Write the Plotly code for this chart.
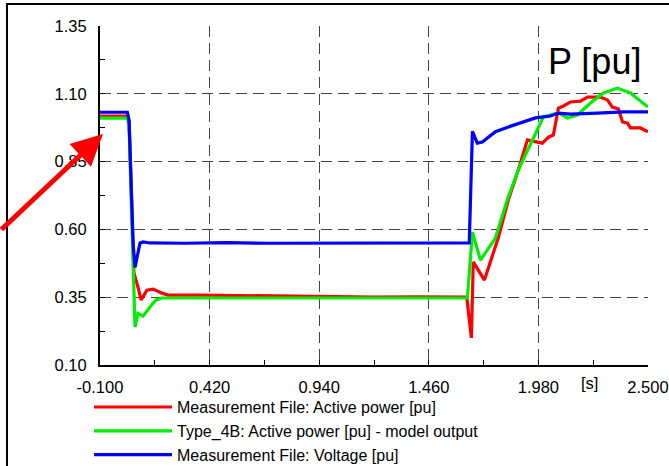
import plotly.graph_objects as go

# ---- data ----
t_meas_p = [-0.100, 0.030, 0.038, 0.050, 0.061, 0.080, 0.095, 0.123, 0.152, 0.194, 0.223, 0.375,
            0.600, 0.883, 1.000, 1.200, 1.400, 1.640, 1.662, 1.671, 1.724, 1.790, 1.838, 1.885,
            1.928, 1.975, 1.999, 2.028, 2.051, 2.075, 2.099, 2.132, 2.179, 2.213, 2.274, 2.308,
            2.331, 2.360, 2.379, 2.403, 2.417, 2.464, 2.500]
p_meas = [1.018, 1.018, 1.000, 0.700, 0.440, 0.387, 0.340, 0.376, 0.380, 0.365, 0.358, 0.358,
          0.356, 0.354, 0.351, 0.350, 0.351, 0.350, 0.200, 0.480, 0.413, 0.570, 0.710, 0.820,
          0.930, 0.922, 0.918, 0.940, 0.948, 1.047, 1.055, 1.070, 1.073, 1.088, 1.088, 1.077,
          1.051, 1.044, 0.996, 0.992, 0.974, 0.974, 0.960]

t_model_p = [-0.100, 0.030, 0.038, 0.057, 0.066, 0.080, 0.104, 0.137, 0.166, 0.194, 0.400,
             0.900, 1.400, 1.643, 1.667, 1.705, 1.776, 1.833, 1.885, 2.004, 2.037, 2.075, 2.118,
             2.165, 2.227, 2.289, 2.355, 2.417, 2.464, 2.500]
p_model = [1.010, 1.010, 0.980, 0.450, 0.240, 0.290, 0.280, 0.314, 0.340, 0.347, 0.347,
           0.347, 0.347, 0.347, 0.590, 0.487, 0.568, 0.710, 0.820, 1.015, 1.022, 1.030, 1.011,
           1.022, 1.066, 1.103, 1.121, 1.103, 1.073, 1.051]

t_meas_v = [-0.100, 0.030, 0.038, 0.057, 0.066, 0.090, 0.104, 0.137, 0.300, 0.500, 0.700,
            0.900, 1.100, 1.300, 1.500, 1.652, 1.667, 1.690, 1.714, 1.776, 1.838, 1.904, 1.966,
            2.004, 2.037, 2.075, 2.132, 2.260, 2.384, 2.500]
v_meas = [1.032, 1.032, 1.000, 0.550, 0.460, 0.550, 0.554, 0.550, 0.549, 0.551, 0.549,
          0.549, 0.550, 0.549, 0.550, 0.550, 0.962, 0.918, 0.922, 0.960, 0.978, 0.996, 1.011,
          1.015, 1.018, 1.029, 1.025, 1.029, 1.033, 1.033]

series_names = ["Measurement File: Active power [pu]",
                "Type_4B: Active power [pu] - model output",
                "Measurement File: Voltage [pu]"]
series_colors = ["#ff0000", "#00ee00", "#0000ff"]

x_tickvals = [-0.10, 0.42, 0.94, 1.46, 1.98, 2.50]
x_ticktext = ["-0.100", "0.420", "0.940", "1.460", "1.980", "2.500"]
y_tickvals = [0.10, 0.35, 0.60, 0.85, 1.10, 1.35]
y_ticktext = ["0.10", "0.35", "0.60", "0.85", "1.10", "1.35"]

FONT = "Liberation Sans, Arial, sans-serif"

fig = go.Figure()
for tx, vy, name, col in zip([t_meas_p, t_model_p, t_meas_v], [p_meas, p_model, v_meas],
                             series_names, series_colors):
    fig.add_trace(go.Scatter(x=tx, y=vy, mode="lines", name=name,
                             line=dict(color=col, width=3.2)))

grid_dash = "11px,6px"
fig.update_xaxes(range=[-0.1, 2.5], tickmode="array", tickvals=x_tickvals, ticktext=x_ticktext,
                 automargin=False,
                 showline=True, linecolor="black", linewidth=2, zeroline=False,
                 showgrid=True, gridcolor="#444444", gridwidth=1, griddash=grid_dash,
                 ticks="inside", ticklen=5, tickcolor="black", ticklabelstandoff=6,
                 tickfont=dict(family=FONT, size=16.5, color="black"),
                 minor=dict(tickmode="linear", tick0=-0.1, dtick=0.26, ticks="inside",
                            ticklen=5, tickcolor="black", showgrid=False))
fig.update_yaxes(range=[0.1, 1.35], tickmode="array", tickvals=y_tickvals, ticktext=y_ticktext,
                 automargin=False,
                 showline=True, linecolor="black", linewidth=2, zeroline=False,
                 showgrid=True, gridcolor="#444444", gridwidth=1, griddash=grid_dash,
                 ticks="inside", ticklen=5, tickcolor="black", ticklabelstandoff=8,
                 tickfont=dict(family=FONT, size=16.5, color="black"),
                 minor=dict(tickmode="linear", tick0=0.1, dtick=0.125, ticks="inside",
                            ticklen=5, tickcolor="black", showgrid=False))

fig.update_layout(
    width=669, height=466,
    margin=dict(l=100, r=21, t=26, b=101, autoexpand=False),
    paper_bgcolor="white", plot_bgcolor="white",
    font=dict(family=FONT, size=16.5, color="black"),
    showlegend=True,
    legend=dict(x=-0.02, xanchor="left", y=-0.074, yanchor="top",
                orientation="v", itemwidth=78, tracegroupgap=0,
                font=dict(family=FONT, size=16, color="black"),
                bgcolor="rgba(0,0,0,0)"),
    shapes=[dict(type="rect", xref="paper", yref="paper",
                 x0=-0.1697, x1=1.08, y0=-0.4, y1=1.0649,
                 line=dict(color="black", width=2), fillcolor="rgba(0,0,0,0)", layer="below")],
    annotations=[
        dict(text="P [pu]", xref="paper", yref="paper", x=0.903, y=0.894,
             xanchor="center", yanchor="middle",
             showarrow=False, font=dict(family=FONT, size=36, color="black")),
        dict(text="[s]", xref="paper", yref="paper", x=0.894, y=-0.053,
             xanchor="center", yanchor="middle",
             showarrow=False, font=dict(family=FONT, size=16.5, color="black")),
        dict(text="", x=-0.0857, y=0.952, xref="x", yref="y",
             ax=-118, ay=97, axref="pixel", ayref="pixel",
             showarrow=True, arrowcolor="#ff0000", arrowwidth=5, arrowhead=2, arrowsize=1.25),
    ],
)

fig.write_html("out.html")
